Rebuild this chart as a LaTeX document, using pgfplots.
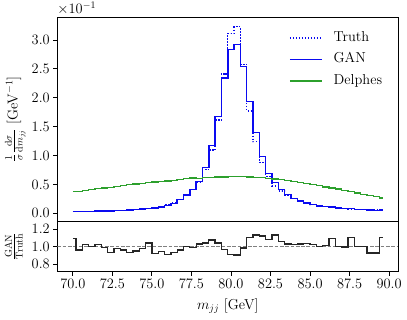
\documentclass[border=0pt]{standalone}
\usepackage{pgfplots}
\usepackage{pgfplotstable}
\pgfplotsset{compat=1.18}
\definecolor{tgreen}{HTML}{2CA02C}
\definecolor{tblue}{HTML}{0A0AF0}
\newcommand{\fs}{\fontsize{14.4}{17}\selectfont}

\pgfplotstableread{
x T G D R
70.0 0.030 0.033 0.375 1.095
70.4 0.031 0.030 0.382 0.96
70.8 0.033 0.034 0.395 1.02
71.2 0.035 0.035 0.410 1.00
71.6 0.037 0.038 0.425 1.02
72.0 0.040 0.040 0.440 0.99
72.4 0.043 0.040 0.452 0.93
72.8 0.047 0.046 0.468 0.98
73.2 0.052 0.050 0.480 0.96
73.6 0.058 0.054 0.495 0.93
74.0 0.065 0.062 0.505 0.95
74.4 0.074 0.073 0.515 0.98
74.8 0.085 0.088 0.530 1.04
75.2 0.100 0.092 0.540 0.92
75.6 0.118 0.111 0.548 0.94
76.0 0.145 0.132 0.560 0.91
76.4 0.182 0.169 0.570 0.93
76.8 0.245 0.235 0.585 0.96
77.2 0.320 0.320 0.600 1.00
77.6 0.415 0.411 0.610 0.99
78.0 0.535 0.551 0.605 1.03
78.4 0.760 0.790 0.618 1.04
78.8 1.095 1.175 0.625 1.075
79.2 1.615 1.680 0.628 1.04
79.6 2.410 2.340 0.632 0.97
80.0 3.115 2.840 0.636 0.91
80.4 3.230 2.920 0.642 0.905
80.8 2.580 2.540 0.638 0.985
81.2 1.770 1.940 0.632 1.10
81.6 1.240 1.400 0.625 1.13
82.0 0.880 0.986 0.615 1.12
82.4 0.640 0.691 0.605 1.08
82.8 0.475 0.537 0.595 1.13
83.2 0.385 0.408 0.582 1.06
83.6 0.315 0.324 0.565 1.03
84.0 0.255 0.260 0.550 1.02
84.4 0.210 0.216 0.535 1.03
84.8 0.175 0.181 0.515 1.035
85.2 0.148 0.151 0.500 1.02
85.6 0.128 0.128 0.480 1.00
86.0 0.112 0.113 0.455 1.01
86.4 0.099 0.108 0.440 1.09
86.8 0.089 0.089 0.420 1.00
87.2 0.080 0.080 0.395 0.995
87.6 0.073 0.080 0.375 1.10
88.0 0.067 0.067 0.350 1.00
88.4 0.062 0.062 0.330 1.00
88.8 0.058 0.054 0.310 0.925
89.2 0.055 0.051 0.290 0.925
89.6 0.052 0.057 0.265 1.10
}\data

\begin{document}
\begin{tikzpicture}
\pgfplotsset{
  every axis/.append style={
    scale only axis, anchor=south west, width=341pt,
    xmin=69.02, xmax=90.58,
    axis line style={line width=0.9pt},
    tick align=outside, major tick length=4pt,
    tick style={black, line width=0.8pt},
    xtick pos=bottom, ytick pos=left,
    tick label style={font=\fs},
    label style={font=\fs},
    yticklabel style={/pgf/number format/.cd, fixed, fixed zerofill, precision=1},
    xticklabel style={/pgf/number format/.cd, fixed, fixed zerofill, precision=1},
  }
}
\begin{axis}[
  at={(57.3pt,98pt)}, height=203.7pt,
  ymin=-0.133, ymax=3.393, clip=false,
  xtick=\empty,
  ytick={0,0.5,1.0,1.5,2.0,2.5,3.0},
  ylabel={$\frac{1}{\sigma}\frac{\mathrm{d}\sigma}{\mathrm{d}m_{jj}}$ [GeV$^{-1}$]},
  ylabel style={at={(axis description cs:-0.1636,0.5)}, anchor=north},
  legend style={at={(rel axis cs:1,1)}, anchor=north east, xshift=-13pt, yshift=-12pt,
    draw=none, fill=none, font=\fs, column sep=11pt, row sep=8.5pt,
    nodes={inner sep=0pt, text height=10pt, text depth=3pt}},
  legend cell align=left,
  legend image code/.code={\draw[#1] (0pt,0pt) -- (32pt,0pt);},
]
\addplot[tblue, line width=1.3pt, dash pattern=on 1.4pt off 1.6pt, const plot mark mid] table[x=x, y=T] {\data};
\addlegendentry{Truth}
\addplot[tblue, line width=1.4pt, const plot mark mid] table[x=x, y=G] {\data};
\addlegendentry{GAN}
\addplot[tgreen, line width=1.4pt, const plot mark mid] table[x=x, y=D] {\data};
\addlegendentry{Delphes}
\node[anchor=base west, font=\fs, inner sep=0pt] at (rel axis cs:0,1) [yshift=3.5pt] {$\times10^{-1}$};
\end{axis}
\begin{axis}[
  at={(57.3pt,47.3pt)}, height=50.7pt,
  ymin=0.714, ymax=1.29,
  xtick={70,72.5,75,77.5,80,82.5,85,87.5,90},
  ytick={0.8,1.0,1.2},
  xlabel={$m_{jj}$ [GeV]},
  xlabel style={yshift=-3pt},
  ylabel={$\frac{\mathrm{GAN}}{\mathrm{Truth}}$},
  ylabel style={at={(axis description cs:-0.1636,0.5)}, anchor=north},
]
\addplot[gray, line width=0.9pt, dash pattern=on 3.7pt off 1.6pt] coordinates {(69.02,1) (90.58,1)};
\addplot[black!85, line width=1.3pt, const plot mark mid] table[x=x, y=R] {\data};
\end{axis}
\pgfresetboundingbox
\path[use as bounding box] (0,0) rectangle (407pt,319pt);
\end{tikzpicture}
\end{document}
